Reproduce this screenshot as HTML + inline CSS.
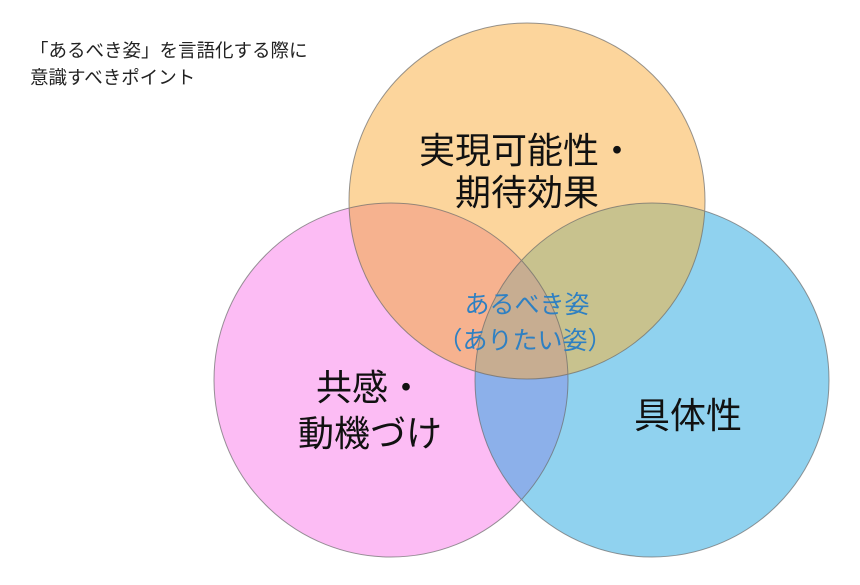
<!DOCTYPE html>
<html><head><meta charset="utf-8"><style>
body{margin:0;background:#fff;width:860px;height:585px;overflow:hidden}
svg{display:block}
text{font-family:"Liberation Sans","Noto Sans CJK JP",sans-serif}
</style></head><body>
<svg width="860" height="585" viewBox="0 0 860 585">
<defs>
<clipPath id="cO"><circle cx="527" cy="201" r="178"/></clipPath>
<clipPath id="cP"><circle cx="391" cy="380" r="177"/></clipPath>
<clipPath id="cB"><circle cx="652" cy="380" r="177"/></clipPath>
</defs>
<circle cx="391" cy="380" r="177" fill="#fcbcf4"/>
<circle cx="652" cy="380" r="177" fill="#90d2ef"/>
<circle cx="527" cy="201" r="178" fill="#fcd59c"/>
<g clip-path="url(#cP)"><circle cx="652" cy="380" r="177" fill="#8cb0ea"/><circle cx="527" cy="201" r="178" fill="#f6b28f"/></g>
<g clip-path="url(#cB)"><circle cx="527" cy="201" r="178" fill="#c8c28e"/></g>
<g clip-path="url(#cB)"><g clip-path="url(#cP)"><circle cx="527" cy="201" r="178" fill="#c7ad91"/></g></g>
<g fill="none" stroke="#6b6b6b" stroke-width="1" opacity="0.7">
<circle cx="391" cy="380" r="177"/><circle cx="652" cy="380" r="177"/><circle cx="527" cy="201" r="178"/>
</g>
<text x="30" y="57" font-size="18.5" fill="#222">「あるべき姿」を言語化する際に</text>
<text x="30" y="84" font-size="18.5" fill="#222">意識すべきポイント</text>
<text x="527" y="163" font-size="36" text-anchor="middle" fill="#111">実現可能性・</text>
<text x="527" y="205" font-size="36" text-anchor="middle" fill="#111">期待効果</text>
<text x="370" y="400" font-size="36" text-anchor="middle" fill="#111">共感・</text>
<text x="370" y="446" font-size="36" text-anchor="middle" fill="#111">動機づけ</text>
<text x="688" y="428" font-size="36" text-anchor="middle" fill="#111">具体性</text>
<text x="527" y="313" font-size="25" text-anchor="middle" fill="#2f80c2">あるべき姿</text>
<text x="525" y="349" font-size="25" text-anchor="middle" fill="#2f80c2">（ありたい姿）</text>
</svg>
</body></html>
